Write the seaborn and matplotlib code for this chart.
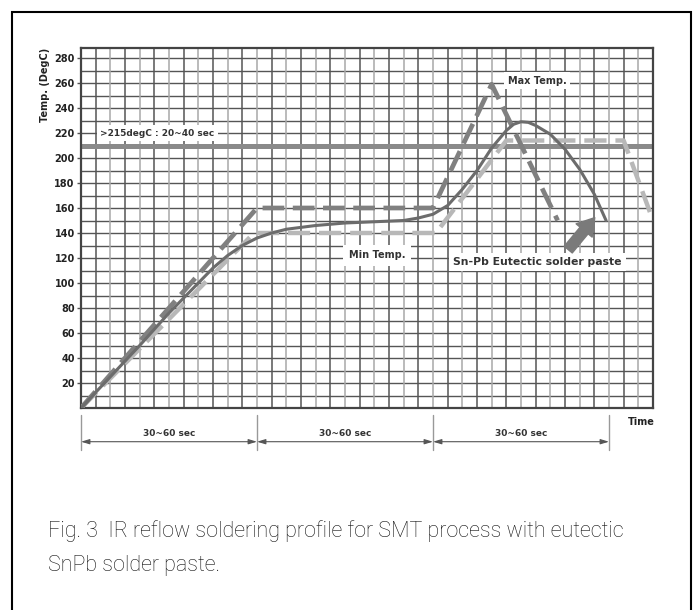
import numpy as np
import pandas as pd
import matplotlib
matplotlib.use('Agg')
import matplotlib.pyplot as plt
import matplotlib.transforms as mtransforms
import matplotlib.patches as mpatches
import seaborn as sns

# time axis in grid units (one cell = one unit), temperature in degC
solid_x = [0, 2, 4, 6, 8, 9, 10, 11, 12, 13, 14, 16, 18, 20, 22, 23, 24, 25, 26, 27, 28, 29, 29.5, 30, 30.5, 31, 32, 33, 34, 35, 35.8]
solid_y = [0, 25, 50, 76, 100, 112, 122, 130, 136, 140, 143, 146, 148, 149, 150, 152, 155, 162, 175, 190, 208, 222, 227, 229, 228.5, 226, 219, 207, 191, 171, 150]
max_x = [0, 12, 24, 28, 32.5]
max_y = [0, 160, 160, 259, 150]
min_x = [0, 11.8, 24.2, 29, 37, 39]
min_y = [0, 140, 140, 214, 214, 150]
limit_temp = 210
yticks = [20, 40, 60, 80, 100, 120, 140, 160, 180, 200, 220, 240, 260, 280]
segments = [0, 12, 24, 36]
seg_labels = ['30~60 sec', '30~60 sec', '30~60 sec']

sns.set_style('white')
plt.rcParams['font.family'] = ['DejaVu Sans']

W, H = 694, 610
fig = plt.figure(figsize=(W / 100, H / 100), dpi=100)
ax = fig.add_axes([81 / W, (H - 408) / H, 572 / W, 360 / H])
ax.set_xlim(0, 39)
ax.set_ylim(0, 288)

# grid
for y in range(10, 290, 10):
    ax.axhline(y, color='#555555', lw=1.0, zorder=1)
for x in range(1, 39):
    ax.axvline(x, color='#555555' if x % 2 else '#a8a8a8', lw=1.1, zorder=1)

ax.axhline(limit_temp, color='#8a8a8a', lw=3.6, zorder=2)

df_min = pd.DataFrame({'x': min_x, 'y': min_y})
df_max = pd.DataFrame({'x': max_x, 'y': max_y})
df_sol = pd.DataFrame({'x': solid_x, 'y': solid_y})

sns.lineplot(data=df_min, x='x', y='y', ax=ax, sort=False, color='#b8b8b8', lw=3.2, zorder=3)
ax.lines[-1].set_dashes((5, 2))
sns.lineplot(data=df_max, x='x', y='y', ax=ax, sort=False, color='#808080', lw=3.4, zorder=4)
ax.lines[-1].set_dashes((4.6, 1.8))
sns.lineplot(data=df_sol, x='x', y='y', ax=ax, sort=False, color='#6c6c6c', lw=2.2, zorder=5)

for s in ax.spines.values():
    s.set_color('#444444')
    s.set_linewidth(1.6)

ax.set_xticks([])
ax.set_yticks(yticks)
ax.set_yticklabels([str(t) for t in yticks], fontsize=7, fontweight='bold', color='#222222')
ax.tick_params(axis='y', length=3, width=1, color='#555555', pad=1.5, left=True)
ax.set_xlabel('')
ax.set_ylabel('')

box = dict(facecolor='white', edgecolor='none', pad=2.5)
ax.text(5.2, 220, '>215degC : 20~40 sec', fontsize=6.5, fontweight='bold', color='#333333',
        ha='center', va='center', bbox=box, zorder=6)
ax.text(31.1, 262, 'Max Temp.', fontsize=7, fontweight='bold', color='#333333',
        ha='center', va='center', bbox=box, zorder=6)
ax.text(20.2, 122, 'Min Temp.', fontsize=7, fontweight='bold', color='#333333',
        ha='center', va='center', bbox=dict(facecolor='white', edgecolor='none', pad=4), zorder=6)
ax.text(31.1, 117, 'Sn-Pb Eutectic solder paste', fontsize=7.8, fontweight='bold', color='#333333',
        ha='center', va='center', bbox=dict(facecolor='white', edgecolor='none', pad=3), zorder=6)

ax.annotate('', xy=(35.15, 154), xytext=(33.1, 125),
            arrowprops=dict(arrowstyle='simple,head_length=0.8,head_width=1.0,tail_width=0.5',
                            color='#7a7a7a', mutation_scale=15), zorder=7)

# time segments under the chart
trans = mtransforms.blended_transform_factory(ax.transData, fig.transFigure)
def fy(px):
    return 1 - px / H

for x in segments:
    ax.plot([x, x], [fy(415), fy(450)], transform=trans, color='#999999', lw=1, clip_on=False)
for i, lab in enumerate(seg_labels):
    x0, x1 = segments[i], segments[i + 1]
    ax.annotate('', xy=(x1, fy(441.7)), xytext=(x0, fy(441.7)), xycoords=trans, textcoords=trans,
                arrowprops=dict(arrowstyle='<|-|>,head_length=0.5,head_width=0.15', color='#555555',
                                lw=0.8, shrinkA=0, shrinkB=0))
    ax.text((x0 + x1) / 2, fy(434), lab, transform=trans, fontsize=6.5, fontweight='bold',
            color='#333333', ha='center', va='center')

ax.text(38.2, fy(422), 'Time', transform=trans, fontsize=7, fontweight='bold',
        color='#222222', ha='center', va='center')

fig.text(45 / W, fy(85), 'Temp. (DegC)', rotation=90, fontsize=7, fontweight='bold',
         color='#222222', ha='center', va='center')

cap_font = ['Roboto', 'DejaVu Sans']
fig.text(48 / W, fy(531), 'Fig. 3  IR reflow soldering profile for SMT process with eutectic',
         fontsize=15.5, fontweight='light', color='#111111', ha='left', va='center', family=cap_font)
fig.text(48 / W, fy(566), 'SnPb solder paste.',
         fontsize=15.5, fontweight='light', color='#111111', ha='left', va='center', family=cap_font)

frame = mpatches.Rectangle((12 / W, -0.02), (691 - 12) / W, fy(12) + 0.02, transform=fig.transFigure,
                           fill=False, edgecolor='black', lw=1.5)
fig.patches.append(frame)

fig.savefig('out.png', dpi=100, facecolor='white')
